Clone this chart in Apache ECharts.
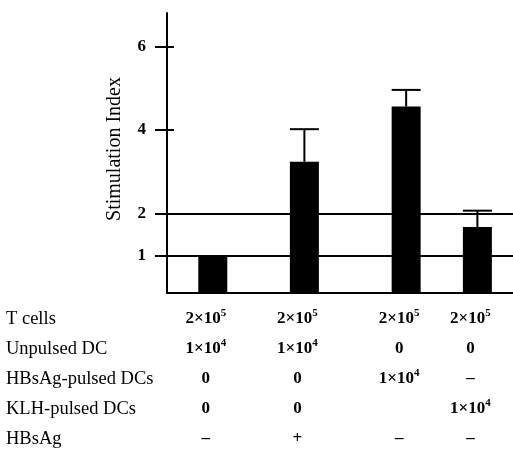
<!DOCTYPE html>
<html>
<head>
<meta charset="utf-8">
<script src="https://cdn.jsdelivr.net/npm/echarts@6/dist/echarts.min.js"></script>
<style>
html,body{margin:0;padding:0;background:#fff;}
#chart{width:513px;height:453px;}
</style>
</head>
<body>
<div id="chart"></div>
<script>
// ---- data ----
const groups = ['Unpulsed DC', 'Unpulsed DC + HBsAg', 'HBsAg-pulsed DCs', 'KLH-pulsed DCs'];
const stimIndex = [1.0, 3.24, 4.56, 1.68];
const stimErr = [0, 0.78, 0.40, 0.39];
const yTicks = [1, 2, 4, 6];
const refLines = [1, 2];
const rowLabels = ['T cells', 'Unpulsed DC', 'HBsAg-pulsed DCs', 'KLH-pulsed DCs', 'HBsAg'];
const tCells = ['2×10^5', '2×10^5', '2×10^5', '2×10^5'];
const unpulsedDC = ['1×10^4', '1×10^4', '0', '0'];
const hbsagPulsedDC = ['0', '0', '1×10^4', '–'];
const klhPulsedDC = ['0', '0', '', '1×10^4'];
const hbsag = ['–', '+', '–', '–'];
const tableRows = [tCells, unpulsedDC, hbsagPulsedDC, klhPulsedDC, hbsag];

// ---- layout ----
const slotIdx = [4, 13, 23, 30];
const nSlots = 34;
const barW = 29;
const FONT = '"Liberation Serif", "Times New Roman", serif';

const slots = [];
for (let i = 0; i < nSlots; i++) {
  const j = slotIdx.indexOf(i);
  slots.push(j >= 0 ? groups[j] : '');
}
function cell(s) {
  let out;
  if (s === '') out = '{n| }';
  else {
    const m = s.match(/^(.*)\^(\d+)$/);
    out = m ? '{n|' + m[1] + '}{sup|' + m[2] + '}' : '{n|' + s + '}';
  }
  return out + '{gap|}';
}

const chart = echarts.init(document.getElementById('chart'), null, {renderer: 'canvas'});
chart.setOption({
  animation: false,
  backgroundColor: '#fff',
  grid: {left: 167, right: 0, top: 13, bottom: 160},
  xAxis: {
    type: 'category',
    data: slots,
    boundaryGap: true,
    axisLine: {lineStyle: {color: '#000', width: 2}},
    axisTick: {show: false},
    axisLabel: {
      interval: 0,
      margin: 11,
      formatter: function (v, idx) {
        const j = slotIdx.indexOf(idx);
        if (j < 0) return '';
        return tableRows.map(r => cell(r[j])).join('\n');
      },
      rich: {
        n: {fontFamily: FONT, fontSize: 17, fontWeight: 'bold', color: '#000', lineHeight: 30},
        sup: {fontFamily: FONT, fontSize: 11, fontWeight: 'bold', color: '#000', verticalAlign: 'top', padding: [4, 0, 0, 0]},
        gap: {width: 14}
      }
    }
  },
  yAxis: [{
    type: 'value', min: 0.1, max: 6.8,
    name: 'Stimulation Index', nameLocation: 'middle', nameGap: 42,
    nameTextStyle: {fontFamily: FONT, fontSize: 20, color: '#000', padding: [0, 0, 0, 8]},
    axisLine: {show: true, lineStyle: {color: '#000', width: 2}},
    axisTick: {show: true, length: 12, customValues: yTicks, lineStyle: {color: '#000', width: 2}},
    axisLabel: {customValues: yTicks, margin: 21, fontFamily: FONT, fontSize: 17, fontWeight: 'bold', color: '#000'},
    splitLine: {show: false}
  }, {
    type: 'value', min: 0.1, max: 6.8, position: 'left',
    axisLine: {show: false},
    axisTick: {show: true, inside: true, length: 7, customValues: yTicks, lineStyle: {color: '#000', width: 2}},
    axisLabel: {show: false},
    splitLine: {show: false}
  }],
  graphic: rowLabels.map((t, i) => ({
    type: 'text', left: 6, top: 310 + i * 29.8,
    style: {text: t, fontFamily: FONT, fontSize: 18.5, fill: '#000'}
  })),
  series: [{
    type: 'bar',
    barWidth: barW,
    itemStyle: {color: '#000'},
    data: stimIndex.map((v, j) => [slotIdx[j], v]),
    markLine: {
      silent: true, symbol: 'none', label: {show: false},
      lineStyle: {color: '#000', width: 2, type: 'solid'},
      data: refLines.map(v => ({yAxis: v}))
    }
  }, {
    type: 'custom',
    data: stimIndex.map((v, j) => [slotIdx[j], v, stimErr[j]]),
    encode: {x: 0, y: 1},
    renderItem: function (params, api) {
      const x = api.value(0), v = api.value(1), e = api.value(2);
      if (!e) return null;
      const b = api.coord([x, v]);
      const t = api.coord([x, v + e]);
      const hw = barW / 2;
      return {type: 'group', children: [
        {type: 'line', shape: {x1: b[0], y1: b[1], x2: t[0], y2: t[1]}, style: {stroke: '#000', lineWidth: 2}},
        {type: 'line', shape: {x1: t[0] - hw, y1: t[1], x2: t[0] + hw, y2: t[1]}, style: {stroke: '#000', lineWidth: 2}}
      ]};
    },
    z: 3
  }]
});
</script>
</body>
</html>
